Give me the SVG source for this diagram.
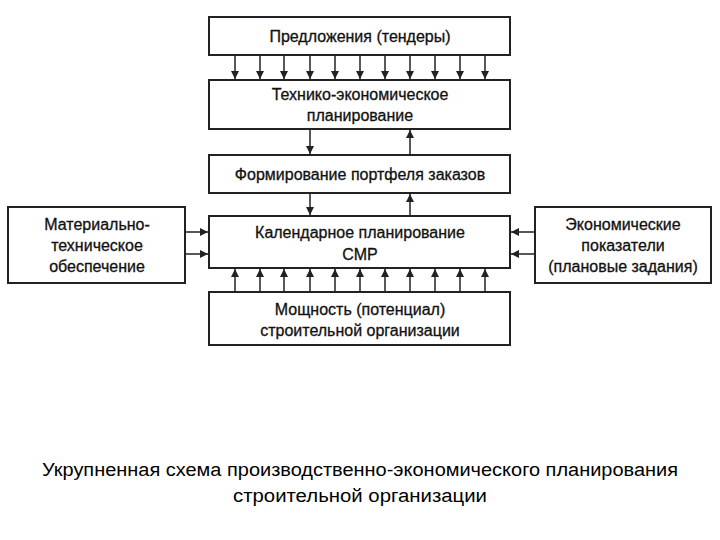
<svg xmlns="http://www.w3.org/2000/svg" width="720" height="540" viewBox="0 0 720 540">
<style>
.b{fill:#fff;stroke:#222;stroke-width:2}
.t{font-family:"Liberation Sans",Arial,sans-serif;font-size:16px;fill:#111;text-anchor:middle;stroke:#111;stroke-width:0.3}
.c{font-family:"Liberation Sans",Arial,sans-serif;font-size:18px;fill:#000;text-anchor:middle}
line{stroke:#222;stroke-width:1.5;marker-end:url(#m)}
</style>
<defs><marker id="m" viewBox="0 0 10 10" refX="10" refY="5" markerWidth="8" markerHeight="8" orient="auto" markerUnits="userSpaceOnUse"><path d="M0,0L10,5L0,10z" fill="#222"/></marker></defs>
<rect width="720" height="540" fill="#fff"/>
<g id="connectors">
<line x1="235" y1="55" x2="235" y2="79"/><line x1="260" y1="55" x2="260" y2="79"/><line x1="284" y1="55" x2="284" y2="79"/><line x1="310" y1="55" x2="310" y2="79"/><line x1="335" y1="55" x2="335" y2="79"/><line x1="360" y1="55" x2="360" y2="79"/><line x1="385" y1="55" x2="385" y2="79"/><line x1="410" y1="55" x2="410" y2="79"/><line x1="435" y1="55" x2="435" y2="79"/><line x1="460" y1="55" x2="460" y2="79"/><line x1="485" y1="55" x2="485" y2="79"/>
<line x1="310" y1="129" x2="310" y2="154"/><line x1="310" y1="193" x2="310" y2="215"/><line x1="410" y1="154" x2="410" y2="130"/><line x1="410" y1="216" x2="410" y2="194"/>
<line x1="185" y1="232" x2="208" y2="232"/><line x1="185" y1="254" x2="208" y2="254"/><line x1="535" y1="232" x2="511" y2="232"/><line x1="535" y1="254" x2="511" y2="254"/>
<line x1="235" y1="292" x2="235" y2="269"/><line x1="260" y1="292" x2="260" y2="269"/><line x1="284" y1="292" x2="284" y2="269"/><line x1="310" y1="292" x2="310" y2="269"/><line x1="335" y1="292" x2="335" y2="269"/><line x1="360" y1="292" x2="360" y2="269"/><line x1="385" y1="292" x2="385" y2="269"/><line x1="410" y1="292" x2="410" y2="269"/><line x1="435" y1="292" x2="435" y2="269"/><line x1="460" y1="292" x2="460" y2="269"/><line x1="485" y1="292" x2="485" y2="269"/>
</g>
<g id="n1"><rect class="b" x="209" y="17" width="301" height="38"/><text class="t" x="360" y="42">Предложения (тендеры)</text></g>
<g id="n2"><rect class="b" x="209" y="80" width="301" height="49"/><text class="t" x="360" y="100">Технико-экономическое</text><text class="t" x="360" y="121">планирование</text></g>
<g id="n3"><rect class="b" x="209" y="155" width="301" height="38"/><text class="t" x="360" y="180">Формирование портфеля заказов</text></g>
<g id="n4"><rect class="b" x="209" y="216" width="301" height="52"/><text class="t" x="360" y="238">Календарное планирование</text><text class="t" x="360" y="260">СМР</text></g>
<g id="n5"><rect class="b" x="209" y="292" width="301" height="53"/><text class="t" x="360" y="315">Мощность (потенциал)</text><text class="t" x="360" y="336">строительной организации</text></g>
<g id="n6"><rect class="b" x="8" y="207" width="177" height="76"/><text class="t" x="97" y="230">Материально-</text><text class="t" x="97" y="251">техническое</text><text class="t" x="97" y="272">обеспечение</text></g>
<g id="n7"><rect class="b" x="535" y="207" width="176" height="76"/><text class="t" x="623" y="230">Экономические</text><text class="t" x="623" y="251">показатели</text><text class="t" x="623" y="272">(плановые задания)</text></g>
<g id="caption"><text class="c" x="360" y="476" textLength="636" lengthAdjust="spacingAndGlyphs">Укрупненная схема производственно-экономического планирования</text><text class="c" x="360" y="502" textLength="254" lengthAdjust="spacingAndGlyphs">строительной организации</text></g>
</svg>
